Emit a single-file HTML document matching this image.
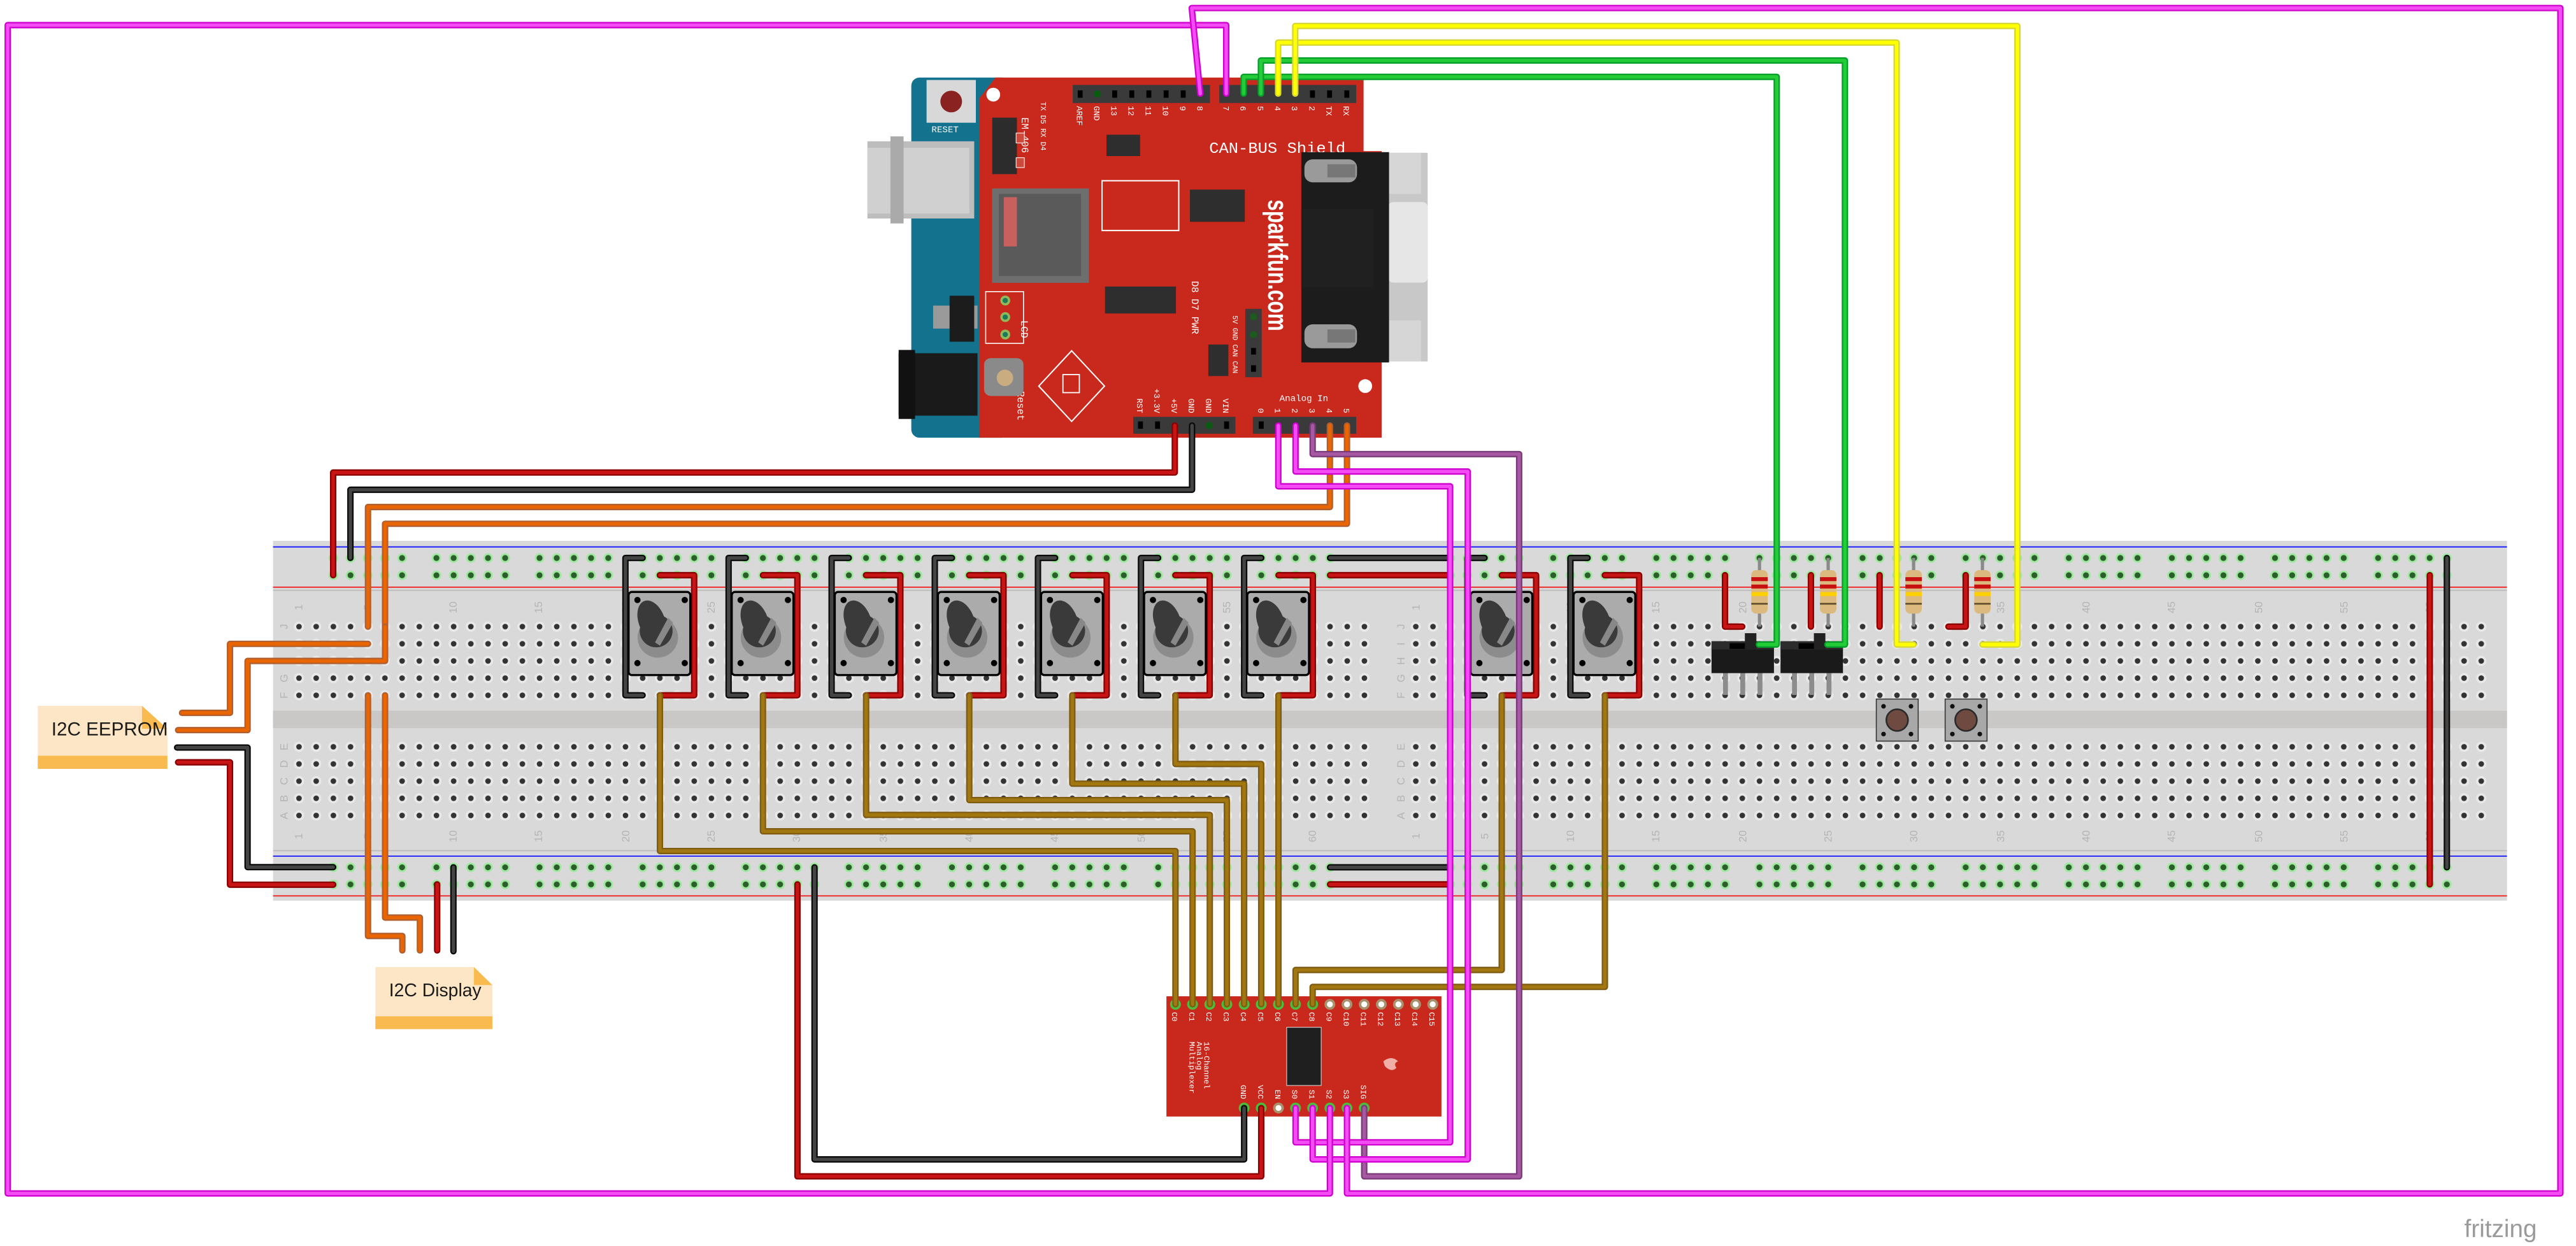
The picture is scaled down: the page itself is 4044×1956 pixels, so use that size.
<!DOCTYPE html>
<html><head><meta charset="utf-8"><style>
html,body{margin:0;padding:0;background:#fff}
svg{display:block}
.o{fill:none;stroke-linejoin:round;stroke-linecap:round;stroke-width:3.9}
.i{fill:none;stroke-linejoin:round;stroke-linecap:round;stroke-width:2.1}
.mo{stroke:#d000d0}.mi{stroke:#f24cf2}
.po{stroke:#7a3a78}.pi{stroke:#a758a3}
.go{stroke:#05a02a}.gi{stroke:#24cc38}
.yo{stroke:#d6d636}.yi{stroke:#ffff00}
.ro{stroke:#8a0000}.ri{stroke:#c81414}
.ko{stroke:#0a0a0a}.ki{stroke:#444}
.oo{stroke:#b06030}.oi{stroke:#ea6400}
.bo{stroke:#7e5c14}.bi{stroke:#a2770f}
.t{font-family:"Liberation Mono",monospace;fill:#fff}
.n{font-family:"Liberation Sans",sans-serif;fill:#b4b4b4;font-size:6.5px}
</style></head><body>
<svg xmlns="http://www.w3.org/2000/svg" width="4044" height="1956" viewBox="0 0 1568 758.4" preserveAspectRatio="none">
<defs>
<pattern id="mh" patternUnits="userSpaceOnUse" x="176.77" y="376.17" width="10.46" height="10.45">
<circle cx="5.23" cy="5.225" r="3.1" fill="#e9e9e9"/><circle cx="5.23" cy="5.225" r="1.7" fill="#333"/></pattern>
<pattern id="mh2" patternUnits="userSpaceOnUse" x="856.57" y="376.17" width="10.46" height="10.45">
<circle cx="5.23" cy="5.225" r="3.1" fill="#e9e9e9"/><circle cx="5.23" cy="5.225" r="1.7" fill="#333"/></pattern>
<pattern id="rh" patternUnits="userSpaceOnUse" x="197.67" y="334.4" width="62.76" height="10.5">
<g fill="#9ee89e"><circle cx="5.23" cy="5.25" r="2.9"/><circle cx="15.69" cy="5.25" r="2.9"/><circle cx="26.15" cy="5.25" r="2.9"/><circle cx="36.61" cy="5.25" r="2.9"/><circle cx="47.07" cy="5.25" r="2.9"/></g>
<g fill="#2b5e2b"><circle cx="5.23" cy="5.25" r="1.8"/><circle cx="15.69" cy="5.25" r="1.8"/><circle cx="26.15" cy="5.25" r="1.8"/><circle cx="36.61" cy="5.25" r="1.8"/><circle cx="47.07" cy="5.25" r="1.8"/></g></pattern>
<pattern id="rh2" patternUnits="userSpaceOnUse" x="877.47" y="334.4" width="62.76" height="10.5">
<g fill="#9ee89e"><circle cx="5.23" cy="5.25" r="2.9"/><circle cx="15.69" cy="5.25" r="2.9"/><circle cx="26.15" cy="5.25" r="2.9"/><circle cx="36.61" cy="5.25" r="2.9"/><circle cx="47.07" cy="5.25" r="2.9"/></g>
<g fill="#2b5e2b"><circle cx="5.23" cy="5.25" r="1.8"/><circle cx="15.69" cy="5.25" r="1.8"/><circle cx="26.15" cy="5.25" r="1.8"/><circle cx="36.61" cy="5.25" r="1.8"/><circle cx="47.07" cy="5.25" r="1.8"/></g></pattern>
<pattern id="rhb" patternUnits="userSpaceOnUse" x="197.67" y="522.7" width="62.76" height="10.4">
<g fill="#9ee89e"><circle cx="5.23" cy="5.2" r="2.9"/><circle cx="15.69" cy="5.2" r="2.9"/><circle cx="26.15" cy="5.2" r="2.9"/><circle cx="36.61" cy="5.2" r="2.9"/><circle cx="47.07" cy="5.2" r="2.9"/></g>
<g fill="#2b5e2b"><circle cx="5.23" cy="5.2" r="1.8"/><circle cx="15.69" cy="5.2" r="1.8"/><circle cx="26.15" cy="5.2" r="1.8"/><circle cx="36.61" cy="5.2" r="1.8"/><circle cx="47.07" cy="5.2" r="1.8"/></g></pattern>
<pattern id="rhb2" patternUnits="userSpaceOnUse" x="877.47" y="522.7" width="62.76" height="10.4">
<g fill="#9ee89e"><circle cx="5.23" cy="5.2" r="2.9"/><circle cx="15.69" cy="5.2" r="2.9"/><circle cx="26.15" cy="5.2" r="2.9"/><circle cx="36.61" cy="5.2" r="2.9"/><circle cx="47.07" cy="5.2" r="2.9"/></g>
<g fill="#2b5e2b"><circle cx="5.23" cy="5.2" r="1.8"/><circle cx="15.69" cy="5.2" r="1.8"/><circle cx="26.15" cy="5.2" r="1.8"/><circle cx="36.61" cy="5.2" r="1.8"/><circle cx="47.07" cy="5.2" r="1.8"/></g></pattern>
<g id="pot">
<path class="o ko" d="M10.46 339.6 H0 V423.2 H10.46"/><path class="i ki" d="M10.46 339.6 H0 V423.2 H10.46"/>
<path class="o ro" d="M20.92 350.1 H41.84 V423.2 H20.92"/><path class="i ri" d="M20.92 350.1 H41.84 V423.2 H20.92"/>
<rect x="1.9" y="360.3" width="37.6" height="50.6" rx="2" fill="#ababab" stroke="#000" stroke-width="1.3"/>
<circle cx="19.7" cy="388" r="12.3" fill="#8c8c8c"/>
<ellipse cx="16" cy="378" rx="8" ry="13" transform="rotate(-20 16 378)" fill="#3a3a3a"/>
<circle cx="18.7" cy="384" r="10" fill="#3a3a3a"/>
<path d="M18 391 L26 376 L29 379 L21 393Z" fill="#888"/>
<g fill="#000"><circle cx="7.3" cy="365.2" r="1.9"/><circle cx="36.1" cy="365.2" r="1.9"/><circle cx="7.3" cy="403.6" r="1.9"/><circle cx="36.1" cy="403.6" r="1.9"/></g>
</g>
<g id="res">
<line x1="0" y1="339.6" x2="0" y2="381.4" stroke="#8a8a8a" stroke-width="2"/>
<rect x="-5" y="347" width="10" height="26.5" rx="3" fill="#dcb97e"/>
<rect x="-5" y="351.3" width="10" height="2.4" fill="#c81010"/><rect x="-5" y="355.8" width="10" height="2.4" fill="#c81010"/>
<rect x="-5" y="360.4" width="10" height="2.4" fill="#ffd000"/><rect x="-5" y="367" width="10" height="1" fill="#5a4a2a"/>
</g>
<g id="sw">
<g fill="#8c8c8c"><rect x="7" y="409" width="3" height="14"/><rect x="17.5" y="409" width="3" height="14"/><rect x="28" y="409" width="3" height="14"/></g>
<rect x="0" y="390.3" width="38" height="19.4" fill="#1a1a1a"/>
<rect x="0" y="390.3" width="38" height="5" fill="#2c2c2c"/>
<rect x="11" y="391.5" width="12" height="3.5" fill="#000"/>
<rect x="20.3" y="385.4" width="7" height="10" fill="#222"/>
</g>
<g id="btn">
<rect x="0" y="425.5" width="25.5" height="25.6" fill="#a8a8a8" stroke="#333" stroke-width="0.6"/>
<circle cx="12.7" cy="438.3" r="6.6" fill="#6e4a40" stroke="#2a2a2a" stroke-width="1"/>
<g fill="#111"><circle cx="4.4" cy="429.9" r="1.4"/><circle cx="21.1" cy="429.9" r="1.4"/><circle cx="4.4" cy="446.8" r="1.4"/><circle cx="21.1" cy="446.8" r="1.4"/></g>
</g>
</defs>

<!-- breadboard -->
<rect x="166.2" y="329.2" width="1359.8" height="219" fill="#d9d9d9"/>
<line x1="166.2" y1="332.9" x2="1526" y2="332.9" stroke="#1414ff" stroke-width="0.7"/>
<line x1="166.2" y1="357.4" x2="1526" y2="357.4" stroke="#f01818" stroke-width="0.7"/>
<line x1="166.2" y1="359.3" x2="1526" y2="359.3" stroke="#bcbcbc" stroke-width="0.7"/>
<rect x="166.2" y="432.6" width="1359.8" height="10.6" fill="#c9c8c6"/>
<line x1="166.2" y1="517.8" x2="1526" y2="517.8" stroke="#bcbcbc" stroke-width="0.7"/>
<line x1="166.2" y1="521.1" x2="1526" y2="521.1" stroke="#1414ff" stroke-width="0.7"/>
<line x1="166.2" y1="545.3" x2="1526" y2="545.3" stroke="#f01818" stroke-width="0.7"/>
<rect x="176.77" y="376.17" width="659" height="52.25" fill="url(#mh)"/>
<rect x="176.77" y="449.4" width="659" height="52.25" fill="url(#mh)"/>
<rect x="856.57" y="376.17" width="659" height="52.25" fill="url(#mh2)"/>
<rect x="856.57" y="449.4" width="659" height="52.25" fill="url(#mh2)"/>
<rect x="197.67" y="334.4" width="627.6" height="21" fill="url(#rh)"/>
<rect x="877.47" y="334.4" width="627.6" height="21" fill="url(#rh2)"/>
<rect x="197.67" y="522.7" width="627.6" height="20.8" fill="url(#rhb)"/>
<rect x="877.47" y="522.7" width="627.6" height="20.8" fill="url(#rhb2)"/>
<!-- row letters -->
<g class="n">
<text transform="translate(175,381.4) rotate(-90)" text-anchor="middle">J</text>
<text transform="translate(175,391.9) rotate(-90)" text-anchor="middle">I</text>
<text transform="translate(175,402.3) rotate(-90)" text-anchor="middle">H</text>
<text transform="translate(175,412.8) rotate(-90)" text-anchor="middle">G</text>
<text transform="translate(175,423.2) rotate(-90)" text-anchor="middle">F</text>
<text transform="translate(175,454.6) rotate(-90)" text-anchor="middle">E</text>
<text transform="translate(175,465) rotate(-90)" text-anchor="middle">D</text>
<text transform="translate(175,475.5) rotate(-90)" text-anchor="middle">C</text>
<text transform="translate(175,486) rotate(-90)" text-anchor="middle">B</text>
<text transform="translate(175,496.5) rotate(-90)" text-anchor="middle">A</text>
<text transform="translate(855,381.4) rotate(-90)" text-anchor="middle">J</text>
<text transform="translate(855,391.9) rotate(-90)" text-anchor="middle">I</text>
<text transform="translate(855,402.3) rotate(-90)" text-anchor="middle">H</text>
<text transform="translate(855,412.8) rotate(-90)" text-anchor="middle">G</text>
<text transform="translate(855,423.2) rotate(-90)" text-anchor="middle">F</text>
<text transform="translate(855,454.6) rotate(-90)" text-anchor="middle">E</text>
<text transform="translate(855,465) rotate(-90)" text-anchor="middle">D</text>
<text transform="translate(855,475.5) rotate(-90)" text-anchor="middle">C</text>
<text transform="translate(855,486) rotate(-90)" text-anchor="middle">B</text>
<text transform="translate(855,496.5) rotate(-90)" text-anchor="middle">A</text>
</g>
<!-- column numbers -->
<g class="n">
<text transform="translate(184,369.7) rotate(-90)" text-anchor="middle">1</text>
<text transform="translate(226,369.7) rotate(-90)" text-anchor="middle">5</text>
<text transform="translate(278,369.7) rotate(-90)" text-anchor="middle">10</text>
<text transform="translate(330,369.7) rotate(-90)" text-anchor="middle">15</text>
<text transform="translate(383,369.7) rotate(-90)" text-anchor="middle">20</text>
<text transform="translate(435,369.7) rotate(-90)" text-anchor="middle">25</text>
<text transform="translate(487,369.7) rotate(-90)" text-anchor="middle">30</text>
<text transform="translate(540,369.7) rotate(-90)" text-anchor="middle">35</text>
<text transform="translate(592,369.7) rotate(-90)" text-anchor="middle">40</text>
<text transform="translate(644,369.7) rotate(-90)" text-anchor="middle">45</text>
<text transform="translate(697,369.7) rotate(-90)" text-anchor="middle">50</text>
<text transform="translate(749,369.7) rotate(-90)" text-anchor="middle">55</text>
<text transform="translate(801,369.7) rotate(-90)" text-anchor="middle">60</text>
<text transform="translate(864,369.7) rotate(-90)" text-anchor="middle">1</text>
<text transform="translate(906,369.7) rotate(-90)" text-anchor="middle">5</text>
<text transform="translate(958,369.7) rotate(-90)" text-anchor="middle">10</text>
<text transform="translate(1010,369.7) rotate(-90)" text-anchor="middle">15</text>
<text transform="translate(1063,369.7) rotate(-90)" text-anchor="middle">20</text>
<text transform="translate(1115,369.7) rotate(-90)" text-anchor="middle">25</text>
<text transform="translate(1167,369.7) rotate(-90)" text-anchor="middle">30</text>
<text transform="translate(1220,369.7) rotate(-90)" text-anchor="middle">35</text>
<text transform="translate(1272,369.7) rotate(-90)" text-anchor="middle">40</text>
<text transform="translate(1324,369.7) rotate(-90)" text-anchor="middle">45</text>
<text transform="translate(1377,369.7) rotate(-90)" text-anchor="middle">50</text>
<text transform="translate(1429,369.7) rotate(-90)" text-anchor="middle">55</text>
<text transform="translate(1481,369.7) rotate(-90)" text-anchor="middle">60</text>
<text transform="translate(184,509) rotate(-90)" text-anchor="middle">1</text>
<text transform="translate(226,509) rotate(-90)" text-anchor="middle">5</text>
<text transform="translate(278,509) rotate(-90)" text-anchor="middle">10</text>
<text transform="translate(330,509) rotate(-90)" text-anchor="middle">15</text>
<text transform="translate(383,509) rotate(-90)" text-anchor="middle">20</text>
<text transform="translate(435,509) rotate(-90)" text-anchor="middle">25</text>
<text transform="translate(487,509) rotate(-90)" text-anchor="middle">30</text>
<text transform="translate(540,509) rotate(-90)" text-anchor="middle">35</text>
<text transform="translate(592,509) rotate(-90)" text-anchor="middle">40</text>
<text transform="translate(644,509) rotate(-90)" text-anchor="middle">45</text>
<text transform="translate(697,509) rotate(-90)" text-anchor="middle">50</text>
<text transform="translate(749,509) rotate(-90)" text-anchor="middle">55</text>
<text transform="translate(801,509) rotate(-90)" text-anchor="middle">60</text>
<text transform="translate(864,509) rotate(-90)" text-anchor="middle">1</text>
<text transform="translate(906,509) rotate(-90)" text-anchor="middle">5</text>
<text transform="translate(958,509) rotate(-90)" text-anchor="middle">10</text>
<text transform="translate(1010,509) rotate(-90)" text-anchor="middle">15</text>
<text transform="translate(1063,509) rotate(-90)" text-anchor="middle">20</text>
<text transform="translate(1115,509) rotate(-90)" text-anchor="middle">25</text>
<text transform="translate(1167,509) rotate(-90)" text-anchor="middle">30</text>
<text transform="translate(1220,509) rotate(-90)" text-anchor="middle">35</text>
<text transform="translate(1272,509) rotate(-90)" text-anchor="middle">40</text>
<text transform="translate(1324,509) rotate(-90)" text-anchor="middle">45</text>
<text transform="translate(1377,509) rotate(-90)" text-anchor="middle">50</text>
<text transform="translate(1429,509) rotate(-90)" text-anchor="middle">55</text>
<text transform="translate(1481,509) rotate(-90)" text-anchor="middle">60</text>
</g>

<!-- components on breadboard -->
<use href="#pot" transform="translate(380.7,0)"/>
<use href="#pot" transform="translate(443.5,0)"/>
<use href="#pot" transform="translate(506.2,0)"/>
<use href="#pot" transform="translate(569,0)"/>
<use href="#pot" transform="translate(631.8,0)"/>
<use href="#pot" transform="translate(694.5,0)"/>
<use href="#pot" transform="translate(757.3,0)"/>
<use href="#pot" transform="translate(893.2,0)"/>
<use href="#pot" transform="translate(955.9,0)"/>
<!-- red jumpers for switches/buttons -->
<path class="o ro" d="M1050 350.1 V381.4 H1060.5"/><path class="i ri" d="M1050 350.1 V381.4 H1060.5"/>
<path class="o ro" d="M1102.3 350.1 V381.4"/><path class="i ri" d="M1102.3 350.1 V381.4"/>
<path class="o ro" d="M1144.1 350.1 V381.4"/><path class="i ri" d="M1144.1 350.1 V381.4"/>
<path class="o ro" d="M1196.5 350.1 V381.4 H1186"/><path class="i ri" d="M1196.5 350.1 V381.4 H1186"/>
<use href="#res" transform="translate(1071,0)"/>
<use href="#res" transform="translate(1112.8,0)"/>
<use href="#res" transform="translate(1164.8,0)"/>
<use href="#res" transform="translate(1206.7,0)"/>
<use href="#sw" transform="translate(1041.8,0)"/>
<use href="#sw" transform="translate(1083.8,0)"/>
<use href="#btn" transform="translate(1142.1,0)"/>
<use href="#btn" transform="translate(1184,0)"/>

<!-- Arduino + shield -->
<rect x="554.7" y="47.2" width="60" height="219.2" rx="5" fill="#13738f"/>
<rect x="528" y="86" width="65" height="47" fill="#bdbdbd"/>
<rect x="528" y="90" width="62" height="40" fill="#d0d0d0"/>
<rect x="542" y="83" width="8" height="53" fill="#aaa"/>
<rect x="547" y="215" width="48" height="38" fill="#1a1a1a"/>
<rect x="547" y="213" width="10" height="42" fill="#111"/>
<rect x="568" y="186" width="27" height="14" fill="#9a9a9a"/>
<rect x="578" y="180" width="15" height="28" fill="#1c1c1c"/>
<rect x="564" y="48.7" width="30" height="26" fill="#d8d8d8"/>
<circle cx="579" cy="61.8" r="6.6" fill="#8a2222"/>
<text x="567" y="80.5" class="t" font-size="5.5">RESET</text>
<path d="M596 60 L606 47.2 H830 V92 H841 V266.4 H596 Z" fill="#c9281c"/>
<circle cx="604.6" cy="57.6" r="4.2" fill="#fff"/>
<circle cx="831" cy="235" r="4.2" fill="#fff"/>
<!-- headers -->
<rect x="653" y="51.7" width="83.5" height="11" fill="#3a3a3a"/>
<rect x="742.2" y="51.7" width="83.3" height="11" fill="#3a3a3a"/>
<g fill="#000">
<rect x="656" y="55" width="3" height="4.5"/><rect x="677" y="55" width="3" height="4.5"/><rect x="687.4" y="55" width="3" height="4.5"/><rect x="697.8" y="55" width="3" height="4.5"/><rect x="708.3" y="55" width="3" height="4.5"/><rect x="718.7" y="55" width="3" height="4.5"/>
<rect x="797.4" y="55" width="3" height="4.5"/><rect x="807.8" y="55" width="3" height="4.5"/><rect x="818.3" y="55" width="3" height="4.5"/>
</g>
<circle cx="668" cy="57.2" r="2.2" fill="#0a5a10"/>
<rect x="689.8" y="253.7" width="62.2" height="10.3" fill="#3a3a3a"/>
<rect x="762.6" y="253.7" width="62.9" height="10.3" fill="#3a3a3a"/>
<g fill="#000"><rect x="692.7" y="256.5" width="3" height="4.5"/><rect x="703.1" y="256.5" width="3" height="4.5"/><rect x="745.1" y="256.5" width="3" height="4.5"/><rect x="766.2" y="256.5" width="3" height="4.5"/></g>
<circle cx="736" cy="259" r="2.2" fill="#0a5a10"/>
<g class="t" font-size="5">
<text transform="translate(655.5,64.5) rotate(90)">AREF</text>
<text transform="translate(666,64.5) rotate(90)">GND</text>
<text transform="translate(676.4,64.5) rotate(90)">13</text>
<text transform="translate(686.9,64.5) rotate(90)">12</text>
<text transform="translate(697.3,64.5) rotate(90)">11</text>
<text transform="translate(707.8,64.5) rotate(90)">10</text>
<text transform="translate(718.2,64.5) rotate(90)">9</text>
<text transform="translate(728.7,64.5) rotate(90)">8</text>
<text transform="translate(744.6,64.5) rotate(90)">7</text>
<text transform="translate(755,64.5) rotate(90)">6</text>
<text transform="translate(765.5,64.5) rotate(90)">5</text>
<text transform="translate(776,64.5) rotate(90)">4</text>
<text transform="translate(786.4,64.5) rotate(90)">3</text>
<text transform="translate(796.9,64.5) rotate(90)">2</text>
<text transform="translate(807.3,64.5) rotate(90)">TX</text>
<text transform="translate(817.8,64.5) rotate(90)">RX</text>
<text transform="translate(692.2,251.5) rotate(90)" text-anchor="end">RST</text>
<text transform="translate(702.6,251.5) rotate(90)" text-anchor="end">+3.3V</text>
<text transform="translate(713.1,251.5) rotate(90)" text-anchor="end">+5V</text>
<text transform="translate(723.6,251.5) rotate(90)" text-anchor="end">GND</text>
<text transform="translate(734,251.5) rotate(90)" text-anchor="end">GND</text>
<text transform="translate(744.5,251.5) rotate(90)" text-anchor="end">VIN</text>
<text transform="translate(765.7,251.5) rotate(90)" text-anchor="end">0</text>
<text transform="translate(776.1,251.5) rotate(90)" text-anchor="end">1</text>
<text transform="translate(786.6,251.5) rotate(90)" text-anchor="end">2</text>
<text transform="translate(797,251.5) rotate(90)" text-anchor="end">3</text>
<text transform="translate(807.5,251.5) rotate(90)" text-anchor="end">4</text>
<text transform="translate(817.9,251.5) rotate(90)" text-anchor="end">5</text>
<text x="778.8" y="244" font-size="5.5">Analog In</text>
<text transform="translate(622,71.5) rotate(90)" font-size="6">EM-406</text>
<text transform="translate(633.5,62) rotate(90)" font-size="4.5">TX  D5 RX  D4</text>
<text transform="translate(725.5,171) rotate(90)" font-size="6">D8 D7 PWR</text>
<text transform="translate(621.5,195) rotate(90)" font-size="6">LCD</text>
<text transform="translate(619.5,238) rotate(90)" font-size="6">Reset</text>
<text transform="translate(750.5,192) rotate(90)" font-size="4.2">5V GND CAN CAN</text>
</g>
<text x="736" y="93" class="t" font-size="9.5" textLength="83" lengthAdjust="spacingAndGlyphs">CAN-BUS Shield</text>
<!-- shield parts -->
<rect x="604" y="71.6" width="15" height="34.4" fill="#2c2c2c"/>
<rect x="618.5" y="81" width="5" height="6" fill="#cc4a3c" stroke="#fff" stroke-width="0.4"/>
<rect x="618.5" y="96" width="5" height="6" fill="#cc4a3c" stroke="#fff" stroke-width="0.4"/>
<rect x="673.5" y="82" width="20.5" height="13" fill="#2e2e2e"/>
<rect x="603.9" y="114.7" width="58.9" height="57.5" fill="#6e6e6e"/>
<rect x="608" y="118" width="50" height="50" fill="#5a5a5a"/>
<rect x="611" y="120" width="8" height="30" fill="#c96060"/>
<rect x="670.8" y="110" width="46.7" height="30.3" fill="none" stroke="#fff" stroke-width="0.8"/>
<rect x="724.3" y="115.4" width="33.4" height="19.6" fill="#2e2e2e"/>
<rect x="672.6" y="174.4" width="43.2" height="16.4" fill="#2e2e2e"/>
<rect x="600" y="177.5" width="23" height="31.5" fill="none" stroke="#fff" stroke-width="0.6"/>
<g fill="#8fba5a"><circle cx="611.9" cy="182.9" r="3"/><circle cx="611.9" cy="193" r="3"/><circle cx="611.9" cy="203.6" r="3"/></g>
<g fill="#1b7a5a"><circle cx="611.9" cy="182.9" r="1.6"/><circle cx="611.9" cy="193" r="1.6"/><circle cx="611.9" cy="203.6" r="1.6"/></g>
<rect x="735.5" y="209.7" width="12.2" height="19.2" fill="#2e2e2e"/>
<rect x="758" y="188" width="10" height="41.6" fill="#3a3a3a"/>
<g fill="#1d5a1d"><circle cx="763" cy="192.8" r="2.2"/><circle cx="763" cy="203.6" r="2.2"/></g>
<g fill="#000"><rect x="761.5" y="211.8" width="3" height="4"/><rect x="761.5" y="222.3" width="3" height="4"/></g>
<rect x="599" y="218" width="24" height="23" rx="4" fill="#8a8a8a"/>
<circle cx="611.7" cy="230" r="5" fill="#c9ad80"/>
<path d="M652.3 213.5 L672.3 235 L652.3 256.5 L632.3 235 Z" fill="none" stroke="#fff" stroke-width="0.8"/>
<rect x="647" y="228" width="10" height="11" fill="none" stroke="#fff" stroke-width="0.7"/>
<text transform="translate(772,121.5) rotate(90)" font-family="Liberation Sans,sans-serif" font-weight="bold" font-size="17" fill="#fff" textLength="80" lengthAdjust="spacingAndGlyphs">sparkfun.com</text>
<!-- DB9 -->
<rect x="845" y="93" width="24" height="127" fill="#c8c8c8"/>
<rect x="845" y="123" width="24" height="49" rx="3" fill="#e6e6e6"/>
<rect x="845" y="93" width="20" height="25" fill="#d6d6d6"/>
<rect x="845" y="195" width="20" height="25" fill="#d6d6d6"/>
<rect x="792.1" y="92.6" width="53.4" height="128" fill="#1c1c1c"/>
<rect x="792.1" y="127" width="44" height="48" fill="#202020"/>
<rect x="794" y="97" width="32" height="14" rx="5" fill="#9a9a9a"/>
<rect x="808" y="100" width="17" height="8" fill="#777"/>
<rect x="794" y="197.4" width="32" height="14.6" rx="5" fill="#9a9a9a"/>
<rect x="808" y="200.5" width="17" height="8" fill="#777"/>

<!-- mux -->
<rect x="710" y="606.4" width="167.4" height="73.2" fill="#c9281c"/>
<g fill="#4cbd3a"><circle cx="715.5" cy="611.3" r="3.3"/><circle cx="725.9" cy="611.3" r="3.3"/><circle cx="736.4" cy="611.3" r="3.3"/><circle cx="746.8" cy="611.3" r="3.3"/><circle cx="757.3" cy="611.3" r="3.3"/><circle cx="767.7" cy="611.3" r="3.3"/><circle cx="778.2" cy="611.3" r="3.3"/><circle cx="788.6" cy="611.3" r="3.3"/><circle cx="799" cy="611.3" r="3.3"/>
<circle cx="757.3" cy="674.4" r="3.3"/><circle cx="767.7" cy="674.4" r="3.3"/><circle cx="788.6" cy="674.4" r="3.3"/><circle cx="799" cy="674.4" r="3.3"/><circle cx="809.5" cy="674.4" r="3.3"/><circle cx="819.9" cy="674.4" r="3.3"/><circle cx="830.4" cy="674.4" r="3.3"/></g>
<g fill="#a8916c"><circle cx="809.5" cy="611.3" r="3.3"/><circle cx="819.9" cy="611.3" r="3.3"/><circle cx="830.4" cy="611.3" r="3.3"/><circle cx="840.8" cy="611.3" r="3.3"/><circle cx="851.2" cy="611.3" r="3.3"/><circle cx="861.7" cy="611.3" r="3.3"/><circle cx="872.1" cy="611.3" r="3.3"/><circle cx="778.2" cy="674.4" r="3.3"/></g>
<g fill="#fff"><circle cx="809.5" cy="611.3" r="1.8"/><circle cx="819.9" cy="611.3" r="1.8"/><circle cx="830.4" cy="611.3" r="1.8"/><circle cx="840.8" cy="611.3" r="1.8"/><circle cx="851.2" cy="611.3" r="1.8"/><circle cx="861.7" cy="611.3" r="1.8"/><circle cx="872.1" cy="611.3" r="1.8"/><circle cx="778.2" cy="674.4" r="1.8"/></g>
<rect x="783.2" y="625.3" width="21" height="35.4" fill="#1f1f1f" stroke="#ddd" stroke-width="0.4"/>
<path d="M842 646 q5 -4 9 0 q-3 1 -1 4 q-3 3 -7 -1z" fill="#f0b0a8"/>
<g class="t" font-size="4.8">
<text transform="translate(713.5,616) rotate(90)">C0</text>
<text transform="translate(723.9,616) rotate(90)">C1</text>
<text transform="translate(734.4,616) rotate(90)">C2</text>
<text transform="translate(744.8,616) rotate(90)">C3</text>
<text transform="translate(755.3,616) rotate(90)">C4</text>
<text transform="translate(765.7,616) rotate(90)">C5</text>
<text transform="translate(776.2,616) rotate(90)">C6</text>
<text transform="translate(786.6,616) rotate(90)">C7</text>
<text transform="translate(797,616) rotate(90)">C8</text>
<text transform="translate(807.5,616) rotate(90)">C9</text>
<text transform="translate(817.9,616) rotate(90)">C10</text>
<text transform="translate(828.4,616) rotate(90)">C11</text>
<text transform="translate(838.8,616) rotate(90)">C12</text>
<text transform="translate(849.2,616) rotate(90)">C13</text>
<text transform="translate(859.7,616) rotate(90)">C14</text>
<text transform="translate(870.1,616) rotate(90)">C15</text>
<text transform="translate(755.3,669) rotate(90)" text-anchor="end">GND</text>
<text transform="translate(765.7,669) rotate(90)" text-anchor="end">VCC</text>
<text transform="translate(776.2,669) rotate(90)" text-anchor="end">EN</text>
<text transform="translate(786.6,669) rotate(90)" text-anchor="end">S0</text>
<text transform="translate(797,669) rotate(90)" text-anchor="end">S1</text>
<text transform="translate(807.5,669) rotate(90)" text-anchor="end">S2</text>
<text transform="translate(817.9,669) rotate(90)" text-anchor="end">S3</text>
<text transform="translate(828.4,669) rotate(90)" text-anchor="end">SIG</text>
<text transform="translate(733,634) rotate(90)">16-Channel</text>
<text transform="translate(728.5,634) rotate(90)">Analog</text>
<text transform="translate(724,634) rotate(90)">Multiplexer</text>
</g>

<!-- labels -->
<path d="M23 429.6 H86.4 L101.9 443.6 V468 H23 Z" fill="#fde6c6"/>
<rect x="23" y="460" width="78.9" height="8" fill="#f9bb4f"/>
<path d="M86.4 429.6 L101.9 443.6 H86.4 Z" fill="#f9bb4f"/>
<text x="31.3" y="447.7" font-family="Liberation Sans,sans-serif" font-size="11.5" fill="#1a1a1a">I2C EEPROM</text>
<path d="M228.5 588.6 H288.5 L299.7 599.6 V626.4 H228.5 Z" fill="#fde6c6"/>
<rect x="228.5" y="618.6" width="71.2" height="7.8" fill="#f9bb4f"/>
<path d="M288.5 588.6 L299.7 599.6 H288.5 Z" fill="#f9bb4f"/>
<text x="236.8" y="606.4" font-family="Liberation Sans,sans-serif" font-size="11" fill="#1a1a1a">I2C Display</text>

<!-- wires -->
<g>
<path class="o bo" d="M401.7 423.2 V518 H715.5 V611.3"/><path class="i bi" d="M401.7 423.2 V518 H715.5 V611.3"/>
<path class="o bo" d="M464.4 423.2 V506 H725.9 V611.3"/><path class="i bi" d="M464.4 423.2 V506 H725.9 V611.3"/>
<path class="o bo" d="M527.2 423.2 V496 H736.4 V611.3"/><path class="i bi" d="M527.2 423.2 V496 H736.4 V611.3"/>
<path class="o bo" d="M590 423.2 V487 H746.8 V611.3"/><path class="i bi" d="M590 423.2 V487 H746.8 V611.3"/>
<path class="o bo" d="M652.7 423.2 V477 H757.3 V611.3"/><path class="i bi" d="M652.7 423.2 V477 H757.3 V611.3"/>
<path class="o bo" d="M715.5 423.2 V465 H767.7 V611.3"/><path class="i bi" d="M715.5 423.2 V465 H767.7 V611.3"/>
<path class="o bo" d="M778.2 423.2 V611.3"/><path class="i bi" d="M778.2 423.2 V611.3"/>
<path class="o bo" d="M914.1 423.2 V590.4 H788.6 V611.3"/><path class="i bi" d="M914.1 423.2 V590.4 H788.6 V611.3"/>
<path class="o bo" d="M976.9 423.2 V600.7 H799 V611.3"/><path class="i bi" d="M976.9 423.2 V600.7 H799 V611.3"/>

<path class="o ko" d="M809.6 339.6 H882.7 M809.6 527.9 H882.7 M1489.4 339.6 V527.9"/><path class="i ki" d="M809.6 339.6 H882.7 M809.6 527.9 H882.7 M1489.4 339.6 V527.9"/>
<path class="o ro" d="M809.6 350.1 H882.7 M809.6 538.3 H882.7 M1479 350.1 V538.3"/><path class="i ri" d="M809.6 350.1 H882.7 M809.6 538.3 H882.7 M1479 350.1 V538.3"/>

<path class="o ro" d="M715.1 259 V287.6 H202.8 V350.1"/><path class="i ri" d="M715.1 259 V287.6 H202.8 V350.1"/>
<path class="o ko" d="M725.6 259 V298.1 H213.3 V339.6"/><path class="i ki" d="M725.6 259 V298.1 H213.3 V339.6"/>
<path class="o oo" d="M809.5 259 V308.6 H224 V381.4"/><path class="i oi" d="M809.5 259 V308.6 H224 V381.4"/>
<path class="o oo" d="M819.9 259 V318.8 H234.4 V381.4"/><path class="i oi" d="M819.9 259 V318.8 H234.4 V381.4"/>
<path class="o oo" d="M224 391.9 H140 V433.9 H110.8"/><path class="i oi" d="M224 391.9 H140 V433.9 H110.8"/>
<path class="o oo" d="M234.4 381.4 V402.3 H150.7 V444.4 H108.4"/><path class="i oi" d="M234.4 381.4 V402.3 H150.7 V444.4 H108.4"/>
<path class="o ko" d="M107.8 455 H150.7 V527.8 H202.8"/><path class="i ki" d="M107.8 455 H150.7 V527.8 H202.8"/>
<path class="o ro" d="M108.4 464 H140 V538.5 H202.8"/><path class="i ri" d="M108.4 464 H140 V538.5 H202.8"/>
<path class="o oo" d="M224 423.2 V569.7 H244.9 V578.5"/><path class="i oi" d="M224 423.2 V569.7 H244.9 V578.5"/>
<path class="o oo" d="M234.4 423.2 V558.5 H255.6 V578.5"/><path class="i oi" d="M234.4 423.2 V558.5 H255.6 V578.5"/>
<path class="o ro" d="M266.1 538.3 V578.5"/><path class="i ri" d="M266.1 538.3 V578.5"/>
<path class="o ko" d="M276 527.9 V579"/><path class="i ki" d="M276 527.9 V579"/>
<path class="o ko" d="M757.3 674.4 V705.7 H495.8 V527.9"/><path class="i ki" d="M757.3 674.4 V705.7 H495.8 V527.9"/>
<path class="o ro" d="M767.7 674.4 V716 H485.4 V538.3"/><path class="i ri" d="M767.7 674.4 V716 H485.4 V538.3"/>

<path class="o go" d="M757 57 V46.8 H1081.5 V392.3 H1070.6"/><path class="i gi" d="M757 57 V46.8 H1081.5 V392.3 H1070.6"/>
<path class="o go" d="M767.5 57 V36.8 H1123 V392.3 H1112.3"/><path class="i gi" d="M767.5 57 V36.8 H1123 V392.3 H1112.3"/>
<path class="o yo" d="M778 57 V25.9 H1154.5 V392.3 H1164.8"/><path class="i yi" d="M778 57 V25.9 H1154.5 V392.3 H1164.8"/>
<path class="o yo" d="M788.4 57 V15.8 H1228 V392.3 H1206.7"/><path class="i yi" d="M788.4 57 V15.8 H1228 V392.3 H1206.7"/>

<path class="o po" d="M799 259 V276.4 H924.7 V716 H830.4 V674.4"/><path class="i pi" d="M799 259 V276.4 H924.7 V716 H830.4 V674.4"/>
<path class="o mo" d="M778.1 259 V296 H882.7 V695.3 H788.6 V674.4"/><path class="i mi" d="M778.1 259 V296 H882.7 V695.3 H788.6 V674.4"/>
<path class="o mo" d="M788.6 259 V287 H893.4 V705.7 H799 V674.4"/><path class="i mi" d="M788.6 259 V287 H893.4 V705.7 H799 V674.4"/>
<path class="o mo" d="M809.5 674.4 V726.4 H4.7 V15.3 H746.4 V57"/><path class="i mi" d="M809.5 674.4 V726.4 H4.7 V15.3 H746.4 V57"/>
<path class="o mo" d="M819.9 674.4 V726.4 H1558.5 V4.9 H725.4 L730.6 57"/><path class="i mi" d="M819.9 674.4 V726.4 H1558.5 V4.9 H725.4 L730.6 57"/>
</g>

<text x="1500" y="753" font-family="Liberation Sans,sans-serif" font-size="15" fill="#9a9a9a">fritzing</text>
</svg>
</body></html>
